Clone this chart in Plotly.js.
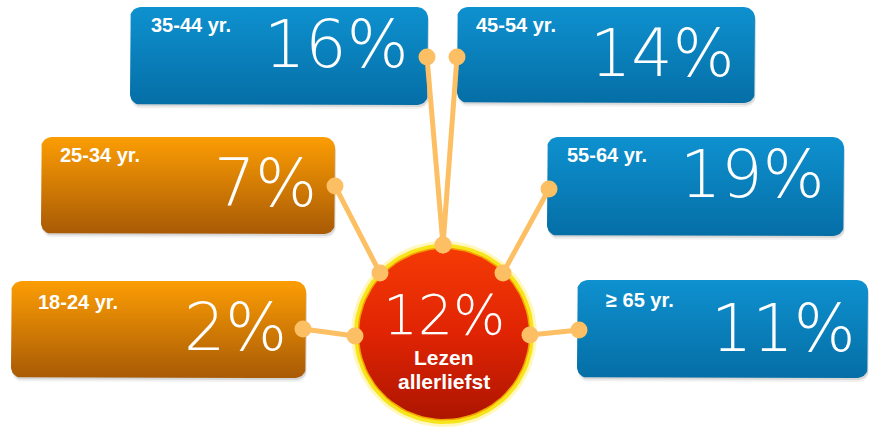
<!DOCTYPE html>
<html>
<head>
<meta charset="utf-8">
<script src="https://cdn.plot.ly/plotly-3.0.1.min.js"></script>
<style>html,body{margin:0;padding:0;background:#fff;}#chart{width:869px;height:427px;}</style>
</head>
<body>
<div id="chart"></div>
<script>
// ---- data ----
const ageGroups = ['18-24 yr.', '25-34 yr.', '35-44 yr.', '45-54 yr.', '55-64 yr.', '\u2265 65 yr.'];
const shares = [2, 7, 16, 14, 19, 11];
const centerShare = 12;
const centerLabel = ['Lezen', 'allerliefst'];

// ---- layout (positions in pixel-like axis units, y downward) ----
const boxes = [
  {x0: 11,  y0: 281, x1: 306, y1: 378, lx: 36,  ly: 302, px: 289, py: 327, dot: [303, 329], hub: [355, 336], theme: 'orange'},
  {x0: 41,  y0: 137, x1: 335, y1: 234, lx: 58,  ly: 155, px: 319, py: 183, dot: [335, 186], hub: [380, 273], theme: 'orange'},
  {x0: 130, y0: 7,   x1: 428, y1: 105, lx: 149, ly: 25,  px: 410, py: 44,  dot: [427, 57],  hub: [443, 245], theme: 'blue'},
  {x0: 457, y0: 7,   x1: 755, y1: 103, lx: 474, ly: 25,  px: 736, py: 53,  dot: [457, 57],  hub: [443, 245], theme: 'blue'},
  {x0: 547, y0: 137, x1: 844, y1: 236, lx: 565, ly: 155, px: 826, py: 174, dot: [549, 189], hub: [503, 273], theme: 'blue'},
  {x0: 577, y0: 280, x1: 868, y1: 378, lx: 604, ly: 300, px: 857, py: 328, dot: [579, 330], hub: [530, 335], theme: 'blue'}
];
const hubCenter = [444, 334];
const themes = {
  blue:   {top: '#0e91cf', bottom: '#056ea6'},
  orange: {top: '#fc9d03', bottom: '#a85a06'}
};
const connectorColor = '#fdbf64';

function roundRect(x0, y0, x1, y1, r) {
  const xs = [], ys = [];
  const corners = [
    [x1 - r, y0 + r, -90, 0],
    [x1 - r, y1 - r, 0, 90],
    [x0 + r, y1 - r, 90, 180],
    [x0 + r, y0 + r, 180, 270]
  ];
  corners.forEach(([cx, cy, a0, a1]) => {
    for (let a = a0; a <= a1; a += 10) {
      const t = a * Math.PI / 180;
      xs.push(cx + r * Math.cos(t));
      ys.push(cy + r * Math.sin(t));
    }
  });
  xs.push(xs[0]); ys.push(ys[0]);
  return {xs, ys};
}
function circle(cx, cy, r) {
  const xs = [], ys = [];
  for (let a = 0; a <= 360; a += 4) {
    const t = a * Math.PI / 180;
    xs.push(cx + r * Math.cos(t));
    ys.push(cy + r * Math.sin(t));
  }
  return {xs, ys};
}

const traces = [];
// shadows
boxes.forEach(b => {
  [[4, 0.06], [2, 0.10]].forEach(([off, op]) => {
    const p = roundRect(b.x0 + 1, b.y0 + off, b.x1 + 1, b.y1 + off, 11);
    traces.push({x: p.xs, y: p.ys, mode: 'lines', fill: 'toself', line: {width: 0},
      fillcolor: 'rgba(0,0,0,' + op + ')', hoverinfo: 'skip', showlegend: false});
  });
});
// boxes
boxes.forEach((b, i) => {
  const p = roundRect(b.x0, b.y0, b.x1, b.y1, 11);
  const th = themes[b.theme];
  traces.push({x: p.xs, y: p.ys, mode: 'lines', fill: 'toself', line: {width: 0},
    fillgradient: {type: 'vertical', start: b.y0, stop: b.y1,
      colorscale: [[0, th.top], [1, th.bottom]]},
    name: ageGroups[i], hoverinfo: 'skip', showlegend: false});
});
// hub: glow, yellow rim, red body
[[93, 'rgba(255,240,120,0.5)'], [90, '#f8e41a'], [86.5, '#f2a000']].forEach(([r, c]) => {
  const p = circle(hubCenter[0], hubCenter[1], r);
  traces.push({x: p.xs, y: p.ys, mode: 'lines', fill: 'toself', line: {width: 0},
    fillcolor: c, hoverinfo: 'skip', showlegend: false});
});
{
  const p = circle(hubCenter[0], hubCenter[1], 85);
  traces.push({x: p.xs, y: p.ys, mode: 'lines', fill: 'toself', line: {width: 0},
    fillgradient: {type: 'vertical', start: hubCenter[1] - 85, stop: hubCenter[1] + 85,
      colorscale: [[0, '#f53a05'], [0.5, '#e02404'], [1, '#ad1500']]},
    hoverinfo: 'skip', showlegend: false});
}
// connectors
boxes.forEach(b => {
  traces.push({x: [b.dot[0], b.hub[0]], y: [b.dot[1], b.hub[1]], mode: 'lines+markers',
    line: {color: connectorColor, width: 5}, marker: {color: connectorColor, size: 17},
    hoverinfo: 'skip', showlegend: false});
});

const annotations = [];
boxes.forEach((b, i) => {
  annotations.push({x: b.lx, y: b.ly, xref: 'x', yref: 'y', xanchor: 'left', yanchor: 'middle',
    text: ageGroups[i], showarrow: false,
    font: {family: 'Arial, "Liberation Sans", sans-serif', size: 20, color: '#ffffff', weight: 'bold'}});
  annotations.push({x: b.px, y: b.py, xref: 'x', yref: 'y', xanchor: 'right', yanchor: 'middle',
    text: shares[i] + '%', showarrow: false,
    font: {family: '"DejaVu Sans", sans-serif', size: 65, color: '#ffffff', weight: 200}});
});
annotations.push({x: hubCenter[0], y: 315, xref: 'x', yref: 'y', xanchor: 'center', yanchor: 'middle',
  text: centerShare + '%', showarrow: false,
  font: {family: '"DejaVu Sans", sans-serif', size: 55, color: '#ffffff', weight: 200}});
annotations.push({x: hubCenter[0], y: 357, xref: 'x', yref: 'y', xanchor: 'center', yanchor: 'middle',
  text: centerLabel[0], showarrow: false,
  font: {family: 'Arial, "Liberation Sans", sans-serif', size: 21, color: '#ffffff', weight: 'bold'}});
annotations.push({x: hubCenter[0], y: 381, xref: 'x', yref: 'y', xanchor: 'center', yanchor: 'middle',
  text: centerLabel[1], showarrow: false,
  font: {family: 'Arial, "Liberation Sans", sans-serif', size: 21, color: '#ffffff', weight: 'bold'}});

const layout = {
  width: 869, height: 427,
  margin: {l: 0, r: 0, t: 0, b: 0},
  paper_bgcolor: '#ffffff', plot_bgcolor: '#ffffff',
  xaxis: {range: [0, 869], visible: false, fixedrange: true},
  yaxis: {range: [427, 0], visible: false, fixedrange: true},
  annotations: annotations,
  showlegend: false,
  hovermode: false
};
Plotly.newPlot('chart', traces, layout, {staticPlot: true, displayModeBar: false});
</script>
</body>
</html>
